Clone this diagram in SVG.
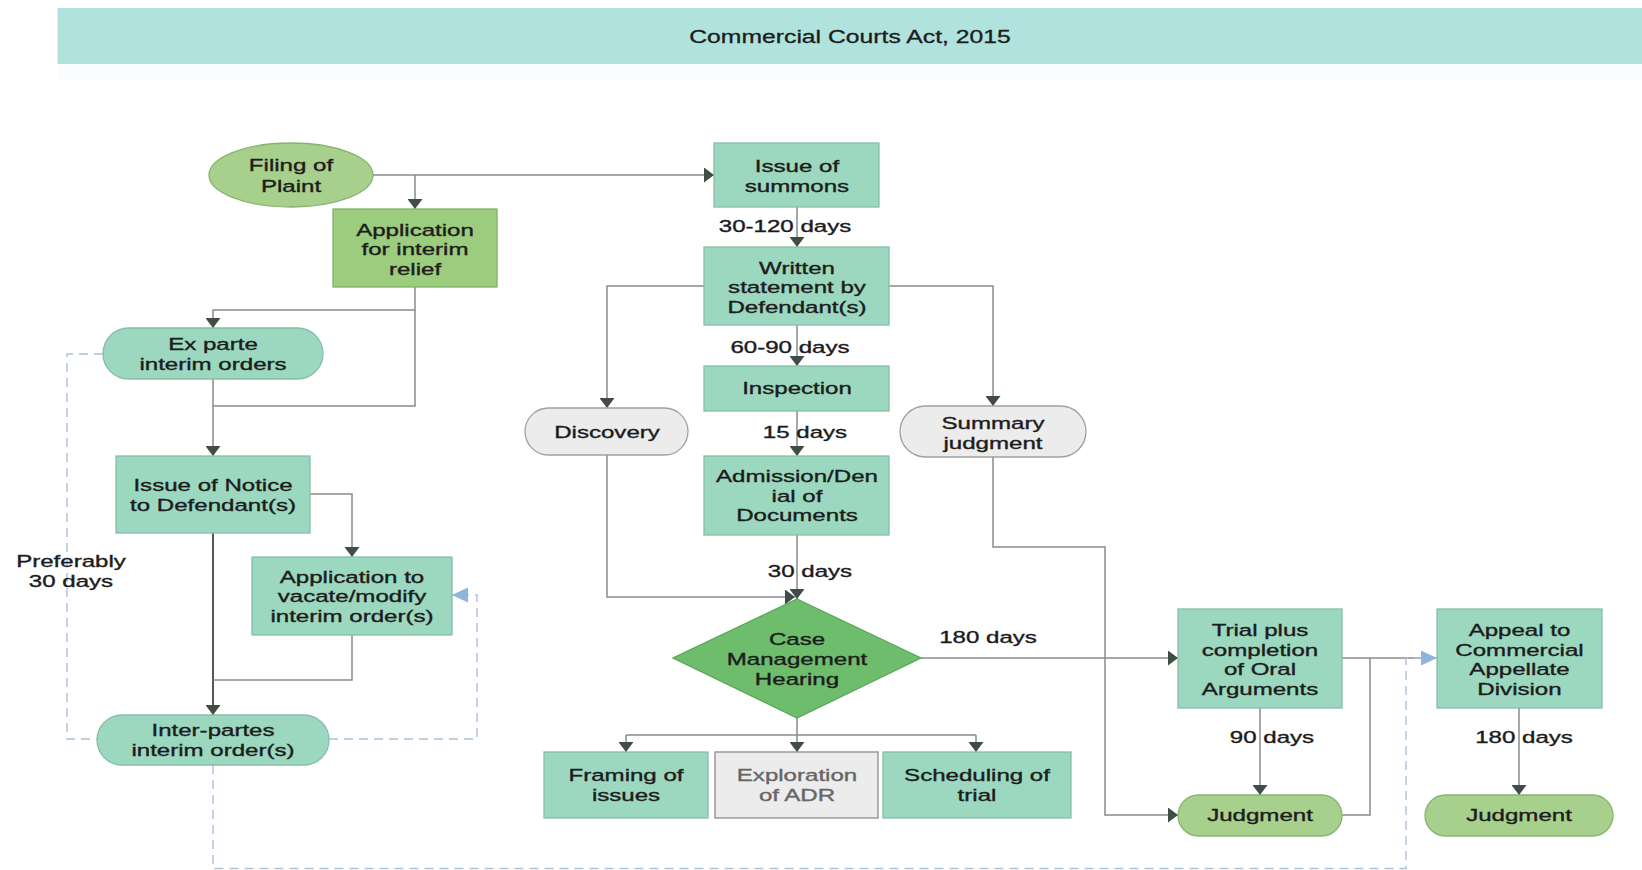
<svg xmlns="http://www.w3.org/2000/svg" width="1642" height="870" viewBox="0 0 1642 870">
<defs>
<style>
.t{font-family:"Liberation Sans",Arial,sans-serif;font-size:16.5px;fill:#1c1c1c;stroke:#1c1c1c;stroke-width:0.35;text-anchor:middle}
.h{font-family:"Liberation Sans",Arial,sans-serif;font-size:18.6px;fill:#1c1c1c;stroke:#1c1c1c;stroke-width:0.3;text-anchor:middle}
.g{fill:#666666;stroke:#666666}
.mint{fill:#9bd8bf;stroke:#86bfa7;stroke-width:1.3}
.lg{fill:#a8d08d;stroke:#88b46e;stroke-width:1.3}
.app{fill:#9ccc7d;stroke:#82b366;stroke-width:1.3}
.dia{fill:#6dbd6d;stroke:#5aa65a;stroke-width:1.3}
.grey{fill:#ececec;stroke:#a0a0a0;stroke-width:1.3}
.c{fill:none;stroke:#8a8a8a;stroke-width:1.5}
.d{fill:none;stroke:#a9c2da;stroke-width:1.4;stroke-dasharray:9 6}
</style>
<marker id="a" markerUnits="userSpaceOnUse" markerWidth="11" markerHeight="15" refX="10" refY="7.5" orient="auto">
<path d="M0,0 L10,7.5 L0,15 z" fill="#3f4d46"/>
</marker>
<marker id="b" markerUnits="userSpaceOnUse" markerWidth="17" markerHeight="15" refX="16" refY="7.5" orient="auto">
<path d="M0,0 L16,7.5 L0,15 z" fill="#8fb5da"/>
</marker>
</defs>
<rect width="1642" height="870" fill="#ffffff"/>
<g id="header">
<rect x="57.5" y="8" width="1585" height="56" fill="#b0e2de"/>
<rect x="57.5" y="64" width="1585" height="16" fill="#fafdfd"/>
<text class="h" transform="translate(850,43) scale(1.33,1)">Commercial Courts Act, 2015</text>
</g>
<g id="connectors">
<path class="c" d="M373,175 H714" marker-end="url(#a)"/>
<path class="c" d="M415,175 V209" marker-end="url(#a)"/>
<path class="c" d="M415,287 V406 H213"/>
<path class="c" d="M415,310 H213 V328" marker-end="url(#a)"/>
<path class="c" d="M213,379 V456" marker-end="url(#a)"/>
<path class="c" d="M310,494 H352 V557" marker-end="url(#a)"/>
<path class="c" d="M213,533 V715" style="stroke:#555;stroke-width:2" marker-end="url(#a)"/>
<path class="c" d="M352,635 V680 H213"/>
<path class="c" d="M797,207 V247" marker-end="url(#a)"/>
<path class="c" d="M704,286 H607 V408" marker-end="url(#a)"/>
<path class="c" d="M889,286 H993 V406" marker-end="url(#a)"/>
<path class="c" d="M797,325 V366" marker-end="url(#a)"/>
<path class="c" d="M797,411 V456" marker-end="url(#a)"/>
<path class="c" d="M797,535 V599" marker-end="url(#a)"/>
<path class="c" d="M607,455 V597 H795" marker-end="url(#a)"/>
<path class="c" d="M921,658 H1178" marker-end="url(#a)"/>
<path class="c" d="M797,718 V752" marker-end="url(#a)"/>
<path class="c" d="M626,735 H976"/>
<path class="c" d="M626,735 V752" marker-end="url(#a)"/>
<path class="c" d="M976,735 V752" marker-end="url(#a)"/>
<path class="c" d="M993,457 V547 H1105 V815 H1178" marker-end="url(#a)"/>
<path class="c" d="M1260,708 V795" marker-end="url(#a)"/>
<path class="c" d="M1342,658 H1421"/>
<path class="c" d="M1342,815 H1370 V658"/>
<path class="c" d="M1519,708 V795" marker-end="url(#a)"/>
<path class="d" d="M103,354 H67 V739 H97"/>
<path class="d" d="M329,739 H477 V595 H452" marker-end="url(#b)"/>
<path class="d" d="M213,765 V868.5 H1406 V658 H1437" marker-end="url(#b)"/>
</g>
<g id="labels">
<text class="t" transform="translate(785,232) scale(1.46,1)">30-120 days</text>
<text class="t" transform="translate(790,353) scale(1.46,1)">60-90 days</text>
<text class="t" transform="translate(805,438) scale(1.46,1)">15 days</text>
<text class="t" transform="translate(810,577) scale(1.46,1)">30 days</text>
<text class="t" transform="translate(988,643) scale(1.46,1)">180 days</text>
<text class="t" transform="translate(1272,743) scale(1.46,1)">90 days</text>
<text class="t" transform="translate(1524,743) scale(1.46,1)">180 days</text>
<text class="t" transform="translate(71,567) scale(1.46,1)"><tspan x="0">Preferably</tspan><tspan x="0" dy="20">30 days</tspan></text>
</g>
<g id="filing">
<ellipse class="lg" cx="291" cy="175" rx="82" ry="32"/>
<text class="t" transform="translate(291,171) scale(1.46,1)"><tspan x="0">Filing of</tspan><tspan x="0" dy="21">Plaint</tspan></text>
</g>
<g id="application">
<rect class="app" x="333" y="209" width="164" height="78"/>
<text class="t" transform="translate(415,236) scale(1.46,1)"><tspan x="0">Application</tspan><tspan x="0" dy="19.5">for interim</tspan><tspan x="0" dy="19.5">relief</tspan></text>
</g>
<g id="summons">
<rect class="mint" x="714" y="143" width="165" height="64"/>
<text class="t" transform="translate(797,172) scale(1.46,1)"><tspan x="0">Issue of</tspan><tspan x="0" dy="20">summons</tspan></text>
</g>
<g id="written">
<rect class="mint" x="704" y="247" width="185" height="78"/>
<text class="t" transform="translate(797,274) scale(1.46,1)"><tspan x="0">Written</tspan><tspan x="0" dy="19.5">statement by</tspan><tspan x="0" dy="19.5">Defendant(s)</tspan></text>
</g>
<g id="inspection">
<rect class="mint" x="704" y="366" width="185" height="45"/>
<text class="t" transform="translate(797,394) scale(1.46,1)">Inspection</text>
</g>
<g id="admission">
<rect class="mint" x="704" y="456" width="185" height="79"/>
<text class="t" transform="translate(797,482) scale(1.46,1)"><tspan x="0">Admission/Den</tspan><tspan x="0" dy="20">ial of</tspan><tspan x="0" dy="19.5">Documents</tspan></text>
</g>
<g id="discovery">
<rect class="grey" x="525" y="408" width="163" height="47" rx="23.5"/>
<text class="t" transform="translate(607,438) scale(1.46,1)">Discovery</text>
</g>
<g id="summary">
<rect class="grey" x="900" y="406" width="186" height="51" rx="25.5"/>
<text class="t" transform="translate(993,429) scale(1.46,1)"><tspan x="0">Summary</tspan><tspan x="0" dy="20">judgment</tspan></text>
</g>
<g id="exparte">
<rect class="mint" x="103" y="328" width="220" height="51" rx="25.5"/>
<text class="t" transform="translate(213,350) scale(1.46,1)"><tspan x="0">Ex parte</tspan><tspan x="0" dy="20">interim orders</tspan></text>
</g>
<g id="notice">
<rect class="mint" x="116" y="456" width="194" height="77"/>
<text class="t" transform="translate(213,491) scale(1.46,1)"><tspan x="0">Issue of Notice</tspan><tspan x="0" dy="20.5">to Defendant(s)</tspan></text>
</g>
<g id="vacate">
<rect class="mint" x="252" y="557" width="200" height="78"/>
<text class="t" transform="translate(352,583) scale(1.46,1)"><tspan x="0">Application to</tspan><tspan x="0" dy="19.5">vacate/modify</tspan><tspan x="0" dy="19.5">interim order(s)</tspan></text>
</g>
<g id="interpartes">
<rect class="mint" x="97" y="715" width="232" height="50" rx="25"/>
<text class="t" transform="translate(213,736) scale(1.46,1)"><tspan x="0">Inter-partes</tspan><tspan x="0" dy="20">interim order(s)</tspan></text>
</g>
<g id="cmh">
<polygon class="dia" points="797,599 921,658 797,718 673,658"/>
<text class="t" transform="translate(797,645) scale(1.46,1)"><tspan x="0">Case</tspan><tspan x="0" dy="20.5">Management</tspan><tspan x="0" dy="19.5">Hearing</tspan></text>
</g>
<g id="framing">
<rect class="mint" x="544" y="752" width="164" height="66"/>
<text class="t" transform="translate(626,781) scale(1.46,1)"><tspan x="0">Framing of</tspan><tspan x="0" dy="20.5">issues</tspan></text>
</g>
<g id="adr">
<rect class="grey" x="715" y="752" width="163" height="66" style="stroke:#8c8c8c"/>
<text class="t g" transform="translate(797,781) scale(1.46,1)"><tspan x="0">Exploration</tspan><tspan x="0" dy="20.5">of ADR</tspan></text>
</g>
<g id="scheduling">
<rect class="mint" x="883" y="752" width="188" height="66"/>
<text class="t" transform="translate(977,781) scale(1.46,1)"><tspan x="0">Scheduling of</tspan><tspan x="0" dy="20.5">trial</tspan></text>
</g>
<g id="trial">
<rect class="mint" x="1178" y="609" width="164" height="99"/>
<text class="t" transform="translate(1260,636) scale(1.46,1)"><tspan x="0">Trial plus</tspan><tspan x="0" dy="20">completion</tspan><tspan x="0" dy="19.5">of Oral</tspan><tspan x="0" dy="19.5">Arguments</tspan></text>
</g>
<g id="appeal">
<rect class="mint" x="1437" y="609" width="165" height="99"/>
<text class="t" transform="translate(1519.5,636) scale(1.46,1)"><tspan x="0">Appeal to</tspan><tspan x="0" dy="20">Commercial</tspan><tspan x="0" dy="19.5">Appellate</tspan><tspan x="0" dy="19.5">Division</tspan></text>
</g>
<g id="judgment1">
<rect class="lg" x="1178" y="795" width="164" height="41" rx="20.5"/>
<text class="t" transform="translate(1260,821) scale(1.46,1)">Judgment</text>
</g>
<g id="judgment2">
<rect class="lg" x="1425" y="795" width="188" height="41" rx="20.5"/>
<text class="t" transform="translate(1519,821) scale(1.46,1)">Judgment</text>
</g>
</svg>
